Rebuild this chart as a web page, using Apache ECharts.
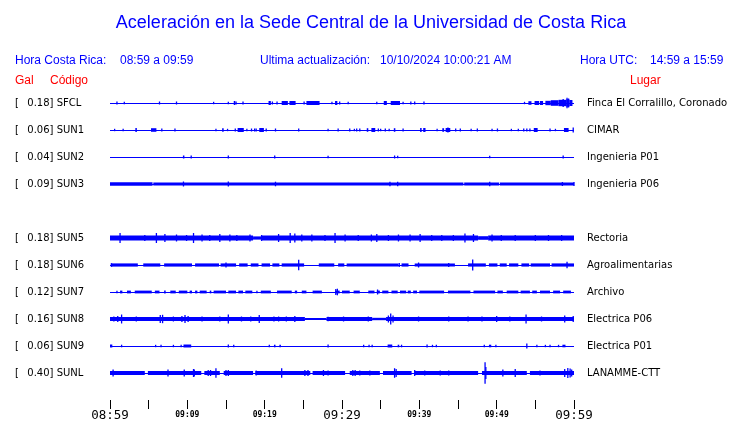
<!DOCTYPE html>
<html><head><meta charset="utf-8">
<script src="https://cdn.jsdelivr.net/npm/echarts@6/dist/echarts.min.js"></script>
<style>html,body{margin:0;padding:0;background:#fff}#c{width:740px;height:423px}</style>
</head><body><div id="c"></div>
<script>
// ---- data ----
const codes  = ['SFCL','SUN1','SUN2','SUN3','','SUN5','SUN6','SUN7','SUN8','SUN9','SUNL'];
const gal    = [0.18, 0.06, 0.04, 0.09, null, 0.18, 0.18, 0.12, 0.16, 0.06, 0.40];
const places = ['Finca El Corralillo, Coronado','CIMAR','Ingenieria P01','Ingenieria P06','','Rectoria','Agroalimentarias','Archivo','Electrica P06','Electrica P01','LANAMME-CTT'];
const tickLabels = ['08:59','','09:09','','09:19','','09:29','','09:39','','09:49','','09:59'];

// envelope segments [startMin, endMin, halfAmplitude] and spikes [min, halfAmplitude]
const sfclBand = [[16.0,16.2,2],[20.5,20.8,2],[22.2,23.0,2],[23.2,24.0,2],[25.4,27.1,2],[29.1,29.4,2],[35.4,35.8,2],[36.3,37.5,2],[54.1,54.5,1.8],[54.9,55.5,2],[55.6,56.0,2],[56.3,57.0,2.2],[57.0,58.0,2.8],[58.0,59.0,3.2],[59.0,59.4,3.8],[59.4,59.8,3]];
const sfclSpikes = [[0.9,1.5],[1.85,1.2],[6.4,1.5],[8.6,1.5],[13.4,1.2],[15.3,1.2],[16.3,1.5],[17.2,1.5],[21.0,1.5],[21.6,1.5],[25.1,1.5],[28.7,1.2],[29.7,1.5],[30.8,1.2],[34.5,1.2],[37.9,1.2],[38.9,1.5],[39.4,1.5],[40.6,1.5],[53.6,1.2],[58.6,4],[59.1,5.3],[59.3,4.5]];

const sun1Band = [[3.3,3.45,2],[5.3,6.0,1.8],[14.5,14.7,1.8],[16.5,17.3,2],[19.3,19.9,2],[33.2,33.4,1.8],[33.8,34.3,2],[36.7,36.9,1.8],[40.1,40.3,2],[40.5,40.8,2],[42.97,43.2,1.8],[43.4,44.0,2],[54.8,55.3,2],[58.7,59.3,2]];
const sun1Spikes = [[0.6,1.2],[1.7,1.2],[6.7,1.5],[8.4,1.5],[13.7,1.2],[15.2,1.2],[16.2,1.5],[17.7,1.2],[18.3,1.5],[18.7,1.5],[18.9,1.5],[20.2,1.5],[21.4,1.5],[24.4,1.5],[28.2,1.2],[29.5,1.5],[31.0,1.5],[31.6,1.2],[31.9,1.5],[32.3,1.5],[34.7,1.5],[35.0,1.2],[35.6,1.5],[36.1,1.2],[37.9,1.5],[42.3,1.2],[43.7,2.5],[44.7,1.5],[45.3,1.5],[46.7,1.2],[47.5,1.5],[49.4,1.2],[50.1,1.5],[51.9,1.2],[52.8,1.2],[53.5,1.5],[53.9,1.5],[54.3,1.5],[56.9,1.5],[57.6,1.2],[59.9,2.5]];

const sun2Band = [[9.45,9.6,1.5]];
const sun2Spikes = [[10.5,1.5],[15.3,1.5],[21.3,1.5],[28.2,1.3],[36.8,1.5],[37.2,1.2],[49.1,1.2],[58.6,1.5]];

const sun3Band = [[0,5.5,1.8],[5.6,45.7,1.6],[45.8,50.3,1.5],[50.4,60,1.6]];
const sun3Spikes = [[9.5,2.5],[15.3,2.5],[21.4,2.3],[36.2,2.3],[37.2,2.3],[49.1,2.3],[58.5,2],[60,2]];

const sun5Band = [[0,18.5,2.4],[18.5,19.6,1.6],[19.6,47.6,2.4],[47.6,48.9,1.8],[48.9,60,2.4]];
const sun5Spikes = [[1.3,5],[4.5,3],[6.0,5],[7.1,4],[8.6,3.5],[9.9,3],[10.8,5],[11.9,3.5],[12.9,3],[14.2,4],[15.5,3.5],[16.4,3],[18.1,3.5],[19.6,3],[21.8,4],[23.3,5],[23.9,4.5],[24.8,3.5],[26.1,3.5],[27.8,3],[29.1,5],[30.4,3.5],[32.1,3],[33.8,3.5],[34.5,4],[36.0,3],[37.3,3.5],[38.8,3.5],[40.1,4],[41.6,3],[42.9,3],[44.4,3],[45.9,4.5],[47.0,4],[49.4,3.5],[50.6,3],[52.4,3],[55.0,3],[56.7,3],[58.4,3]];

const sun6Band = [[0.1,3.6,1.6],[4.3,6.5,1.6],[7.0,10.6,1.6],[11.0,14.1,1.6],[14.3,16.3,1.6],[16.7,17.8,1.6],[18.2,19.2,1.6],[19.6,20.7,1.6],[21.0,21.9,1.6],[22.2,25.1,1.6],[27.0,29.0,1.6],[29.5,30.3,1.6],[30.6,37.3,1.6],[37.7,38.6,1.6],[39.4,44.6,1.6],[46.3,48.6,1.6],[49.0,50.1,1.6],[50.4,51.3,1.6],[51.6,52.8,1.6],[53.2,54.2,1.6],[54.4,56.9,1.6],[57.1,60.0,1.6]];
const sun6Spikes = [[0.2,1.8],[15.0,2.5],[24.4,5.3],[37.4,2],[39.9,2.5],[43.8,2],[46.9,5.5],[59.1,3.3]];

const sun7Band = [[1.3,1.6,1.4],[2.2,2.7,1.4],[3.2,5.4,1.4],[5.8,6.4,1.4],[7.0,7.2,1.4],[7.8,8.5,1.4],[8.9,10.0,1.4],[10.3,10.6,1.4],[11.0,11.3,1.4],[11.6,12.5,1.4],[12.9,13.1,1.4],[13.4,15.0,1.4],[15.3,16.3,1.4],[16.6,17.2,1.4],[17.5,18.4,1.4],[19.5,20.8,1.4],[21.6,23.5,1.4],[23.9,24.2,1.4],[24.8,25.4,1.4],[26.2,27.4,1.4],[29.1,29.7,1.4],[30.0,31.0,1.4],[31.5,32.3,1.4],[33.4,34.2,1.4],[34.5,34.9,1.4],[35.2,36.0,1.4],[36.4,37.2,1.4],[37.5,38.3,1.4],[38.5,38.9,1.4],[39.2,39.7,1.4],[40.0,43.2,1.4],[43.7,46.6,1.4],[47.0,49.8,1.4],[50.1,50.8,1.4],[51.3,52.8,1.4],[53.1,54.3,1.4],[54.6,55.2,1.4],[55.6,56.9,1.4],[57.3,58.2,1.4],[58.6,59.6,1.4]];
const sun7Spikes = [[0.9,1.3],[19.0,1.3],[29.2,3],[29.4,3.3],[34.6,2.5]];

const sun8Band = [[0,25.2,2.0],[25.2,28.0,1.0],[28.0,33.9,2.0],[33.9,35.7,1.2],[35.7,60,2.0]];
const sun8Spikes = [[0.5,2.5],[1.0,3],[1.5,4.5],[3.4,2.5],[6.5,4],[6.8,4.2],[8.2,2.5],[9.3,3],[9.7,4],[10.1,3],[11.9,2.5],[14.2,2.5],[15.3,4.5],[17.0,2.5],[18.2,2.5],[19.3,4],[21.2,2.5],[21.8,2.5],[22.8,2.5],[23.9,3],[28.2,2.2],[30.2,2.5],[33.4,2.5],[36.0,3.5],[36.3,5.5],[36.6,3.5],[39.9,2.5],[43.8,2.5],[46.3,2.5],[48.1,2.5],[50.0,3],[51.7,2.5],[53.8,4.5],[55.8,2.5],[58.8,3.5],[59.9,3]];

const sun9Band = [[0,0.3,1.5],[9.5,10.5,1.5],[21.2,21.4,1.3],[21.9,22.1,1.3],[35.9,36.5,1.5],[37.2,37.4,1.3],[49.0,49.3,1.3],[58.5,58.9,1.3]];
const sun9Spikes = [[1.5,1.3],[5.9,1.2],[6.6,1.3],[8.2,1.2],[9.2,1.3],[15.3,1.5],[16.0,1.3],[20.6,1.3],[28.2,1.5],[32.8,1.2],[33.5,1.2],[33.9,1.2],[37.7,1.3],[41.0,1.5],[41.7,1.2],[42.2,1.2],[48.4,1.3],[49.9,1.3],[53.9,2.5],[55.2,1.2],[56.3,1.2],[56.9,1.2],[58.0,1.2]];

const sunlBand = [[0,4.5,2],[4.9,11.8,2],[12.2,14.2,2],[14.7,18.5,2],[18.8,25.9,2],[26.2,30.4,2],[31.0,34.9,2],[35.3,39.0,2],[39.4,47.6,2],[48.1,53.9,2],[54.3,60,2]];
const sunlSpikes = [[0.4,3.5],[7.5,3.5],[9.6,3.5],[10.8,4],[10.9,3.5],[12.7,3],[13.0,3],[13.7,4.7],[15.0,3],[15.3,3],[18.9,2.5],[22.2,4.7],[25.2,3],[25.6,3],[27.6,3],[28.2,2.5],[31.4,3],[31.7,3],[32.3,2.5],[33.6,2.5],[36.8,4.8],[37.0,4],[39.4,3],[40.7,2.5],[42.7,2.5],[43.8,2.5],[48.5,10.8],[48.6,6],[50.8,3.5],[52.4,4],[55.6,2.5],[58.8,4],[59.2,5],[59.5,4.5],[59.7,3.5]];

const bands  = [sfclBand, sun1Band, sun2Band, sun3Band, [], sun5Band, sun6Band, sun7Band, sun8Band, sun9Band, sunlBand];
const spikes = [sfclSpikes, sun1Spikes, sun2Spikes, sun3Spikes, [], sun5Spikes, sun6Spikes, sun7Spikes, sun8Spikes, sun9Spikes, sunlSpikes];

// ---- build ----
const BLUE = '#0000ff';
const GAIN = 1 / 27.1; // trace rows per amplitude unit
const bandData = [], spikeData = [], baseData = [];
codes.forEach((c, r) => {
  if (!c) return;
  baseData.push([r, 0, 60]);
  bands[r].forEach(b => bandData.push([r, b[0], b[1], b[2]]));
  spikes[r].forEach(s => spikeData.push([r, s[0], s[0], s[1]]));
});

function rectItem(api, minW) {
  const r = api.value(0), s = api.value(1), e = api.value(2), a = api.value(3) * GAIN;
  const p1 = api.coord([s, r - a]), p2 = api.coord([e, r + a]);
  let w = Math.abs(p2[0] - p1[0]);
  let x = Math.min(p1[0], p2[0]);
  if (w < minW) { x -= (minW - w) / 2; w = minW; }
  const y = Math.min(p1[1], p2[1]), h = Math.abs(p2[1] - p1[1]);
  return { type: 'rect', shape: { x, y, width: w, height: h }, style: { fill: BLUE } };
}

const chart = echarts.init(document.getElementById('c'), null, { renderer: 'canvas' });
const yBase = { type: 'value', min: -0.5, max: 11, interval: 0.5, inverse: true,
  axisLine: { show: false }, axisTick: { show: false }, splitLine: { show: false } };

chart.setOption({
  animation: false,
  backgroundColor: '#fff',
  grid: { left: 110, right: 166, top: 89.5, bottom: 23 },
  xAxis: { type: 'value', min: 0, max: 60, interval: 5, position: 'bottom',
    axisLine: { show: false, onZero: false }, splitLine: { show: false },
    axisTick: { show: true, length: 9, lineStyle: { color: '#000', width: 1 } },
    axisLabel: { margin: 9.5, showMinLabel: true, showMaxLabel: true,
      formatter: v => { const i = Math.round(v / 5); const t = tickLabels[i] || '';
        if (!t) return ''; return (i % 6 === 0) ? '{big|' + t + '}' : '{sm|' + t + '}'; },
      rich: {
        big: { fontFamily: 'DejaVu Sans Mono', fontSize: 12.5, color: '#000', lineHeight: 12 },
        sm: { fontFamily: 'DejaVu Sans Mono', fontSize: 8, fontWeight: 'bold', color: '#000', lineHeight: 11 }
      } } },
  yAxis: [
    Object.assign({}, yBase, { position: 'left',
      axisLabel: { align: 'left', margin: 95, fontFamily: 'DejaVu Sans', fontSize: 10, color: '#000',
        formatter: v => { if (!Number.isInteger(v) || !codes[v]) return '';
          return '{b|[}{t|' + gal[v].toFixed(2) + '] ' + codes[v] + '}'; },
        rich: { b: { width: 12.3, fontFamily: 'DejaVu Sans', fontSize: 10, color: '#000' },
                t: { fontFamily: 'DejaVu Sans', fontSize: 10, color: '#000' } } } }),
    Object.assign({}, yBase, { position: 'right',
      axisLabel: { align: 'left', margin: 13, fontFamily: 'DejaVu Sans', fontSize: 10, color: '#000',
        formatter: v => (Number.isInteger(v) && places[v]) ? places[v] : '' } })
  ],
  series: [
    { type: 'custom', name: 'baseline', data: baseData, encode: { x: [1, 2], y: 0 },
      renderItem: (p, api) => { const r = api.value(0);
        const a = api.coord([api.value(1), r]), b = api.coord([api.value(2), r]);
        const y = Math.round(a[1]) + 0.5;
        return { type: 'line', shape: { x1: a[0], y1: y, x2: b[0], y2: y }, style: { stroke: BLUE, lineWidth: 1 } }; } },
    { type: 'custom', name: 'band', data: bandData, encode: { x: [1, 2], y: 0 },
      renderItem: (p, api) => rectItem(api, 1.5) },
    { type: 'custom', name: 'spikes', data: spikeData, encode: { x: [1, 2], y: 0 },
      renderItem: (p, api) => rectItem(api, 1.3) }
  ],
  graphic: [
    { type: 'text', x: 371, y: 23, style: { text: 'Aceleración en la Sede Central de la Universidad de Costa Rica', fill: BLUE, font: '18px "Liberation Sans", Arial, sans-serif', align: 'center', verticalAlign: 'middle' } },
    { type: 'text', x: 15, y: 61, style: { text: 'Hora Costa Rica:', fill: BLUE, font: '12px "Liberation Sans", Arial, sans-serif', verticalAlign: 'middle' } },
    { type: 'text', x: 120, y: 61, style: { text: '08:59 a 09:59', fill: BLUE, font: '12px "Liberation Sans", Arial, sans-serif', verticalAlign: 'middle' } },
    { type: 'text', x: 260, y: 61, style: { text: 'Ultima actualización:', fill: BLUE, font: '12px "Liberation Sans", Arial, sans-serif', verticalAlign: 'middle' } },
    { type: 'text', x: 380, y: 61, style: { text: '10/10/2024 10:00:21 AM', fill: BLUE, font: '12px "Liberation Sans", Arial, sans-serif', verticalAlign: 'middle' } },
    { type: 'text', x: 580, y: 61, style: { text: 'Hora UTC:', fill: BLUE, font: '12px "Liberation Sans", Arial, sans-serif', verticalAlign: 'middle' } },
    { type: 'text', x: 650, y: 61, style: { text: '14:59 a 15:59', fill: BLUE, font: '12px "Liberation Sans", Arial, sans-serif', verticalAlign: 'middle' } },
    { type: 'text', x: 15, y: 80.5, style: { text: 'Gal', fill: '#ff0000', font: '12px "Liberation Sans", Arial, sans-serif', verticalAlign: 'middle' } },
    { type: 'text', x: 50, y: 80.5, style: { text: 'Código', fill: '#ff0000', font: '12px "Liberation Sans", Arial, sans-serif', verticalAlign: 'middle' } },
    { type: 'text', x: 630, y: 80.5, style: { text: 'Lugar', fill: '#ff0000', font: '12px "Liberation Sans", Arial, sans-serif', verticalAlign: 'middle' } }
  ]
});
</script></body></html>
